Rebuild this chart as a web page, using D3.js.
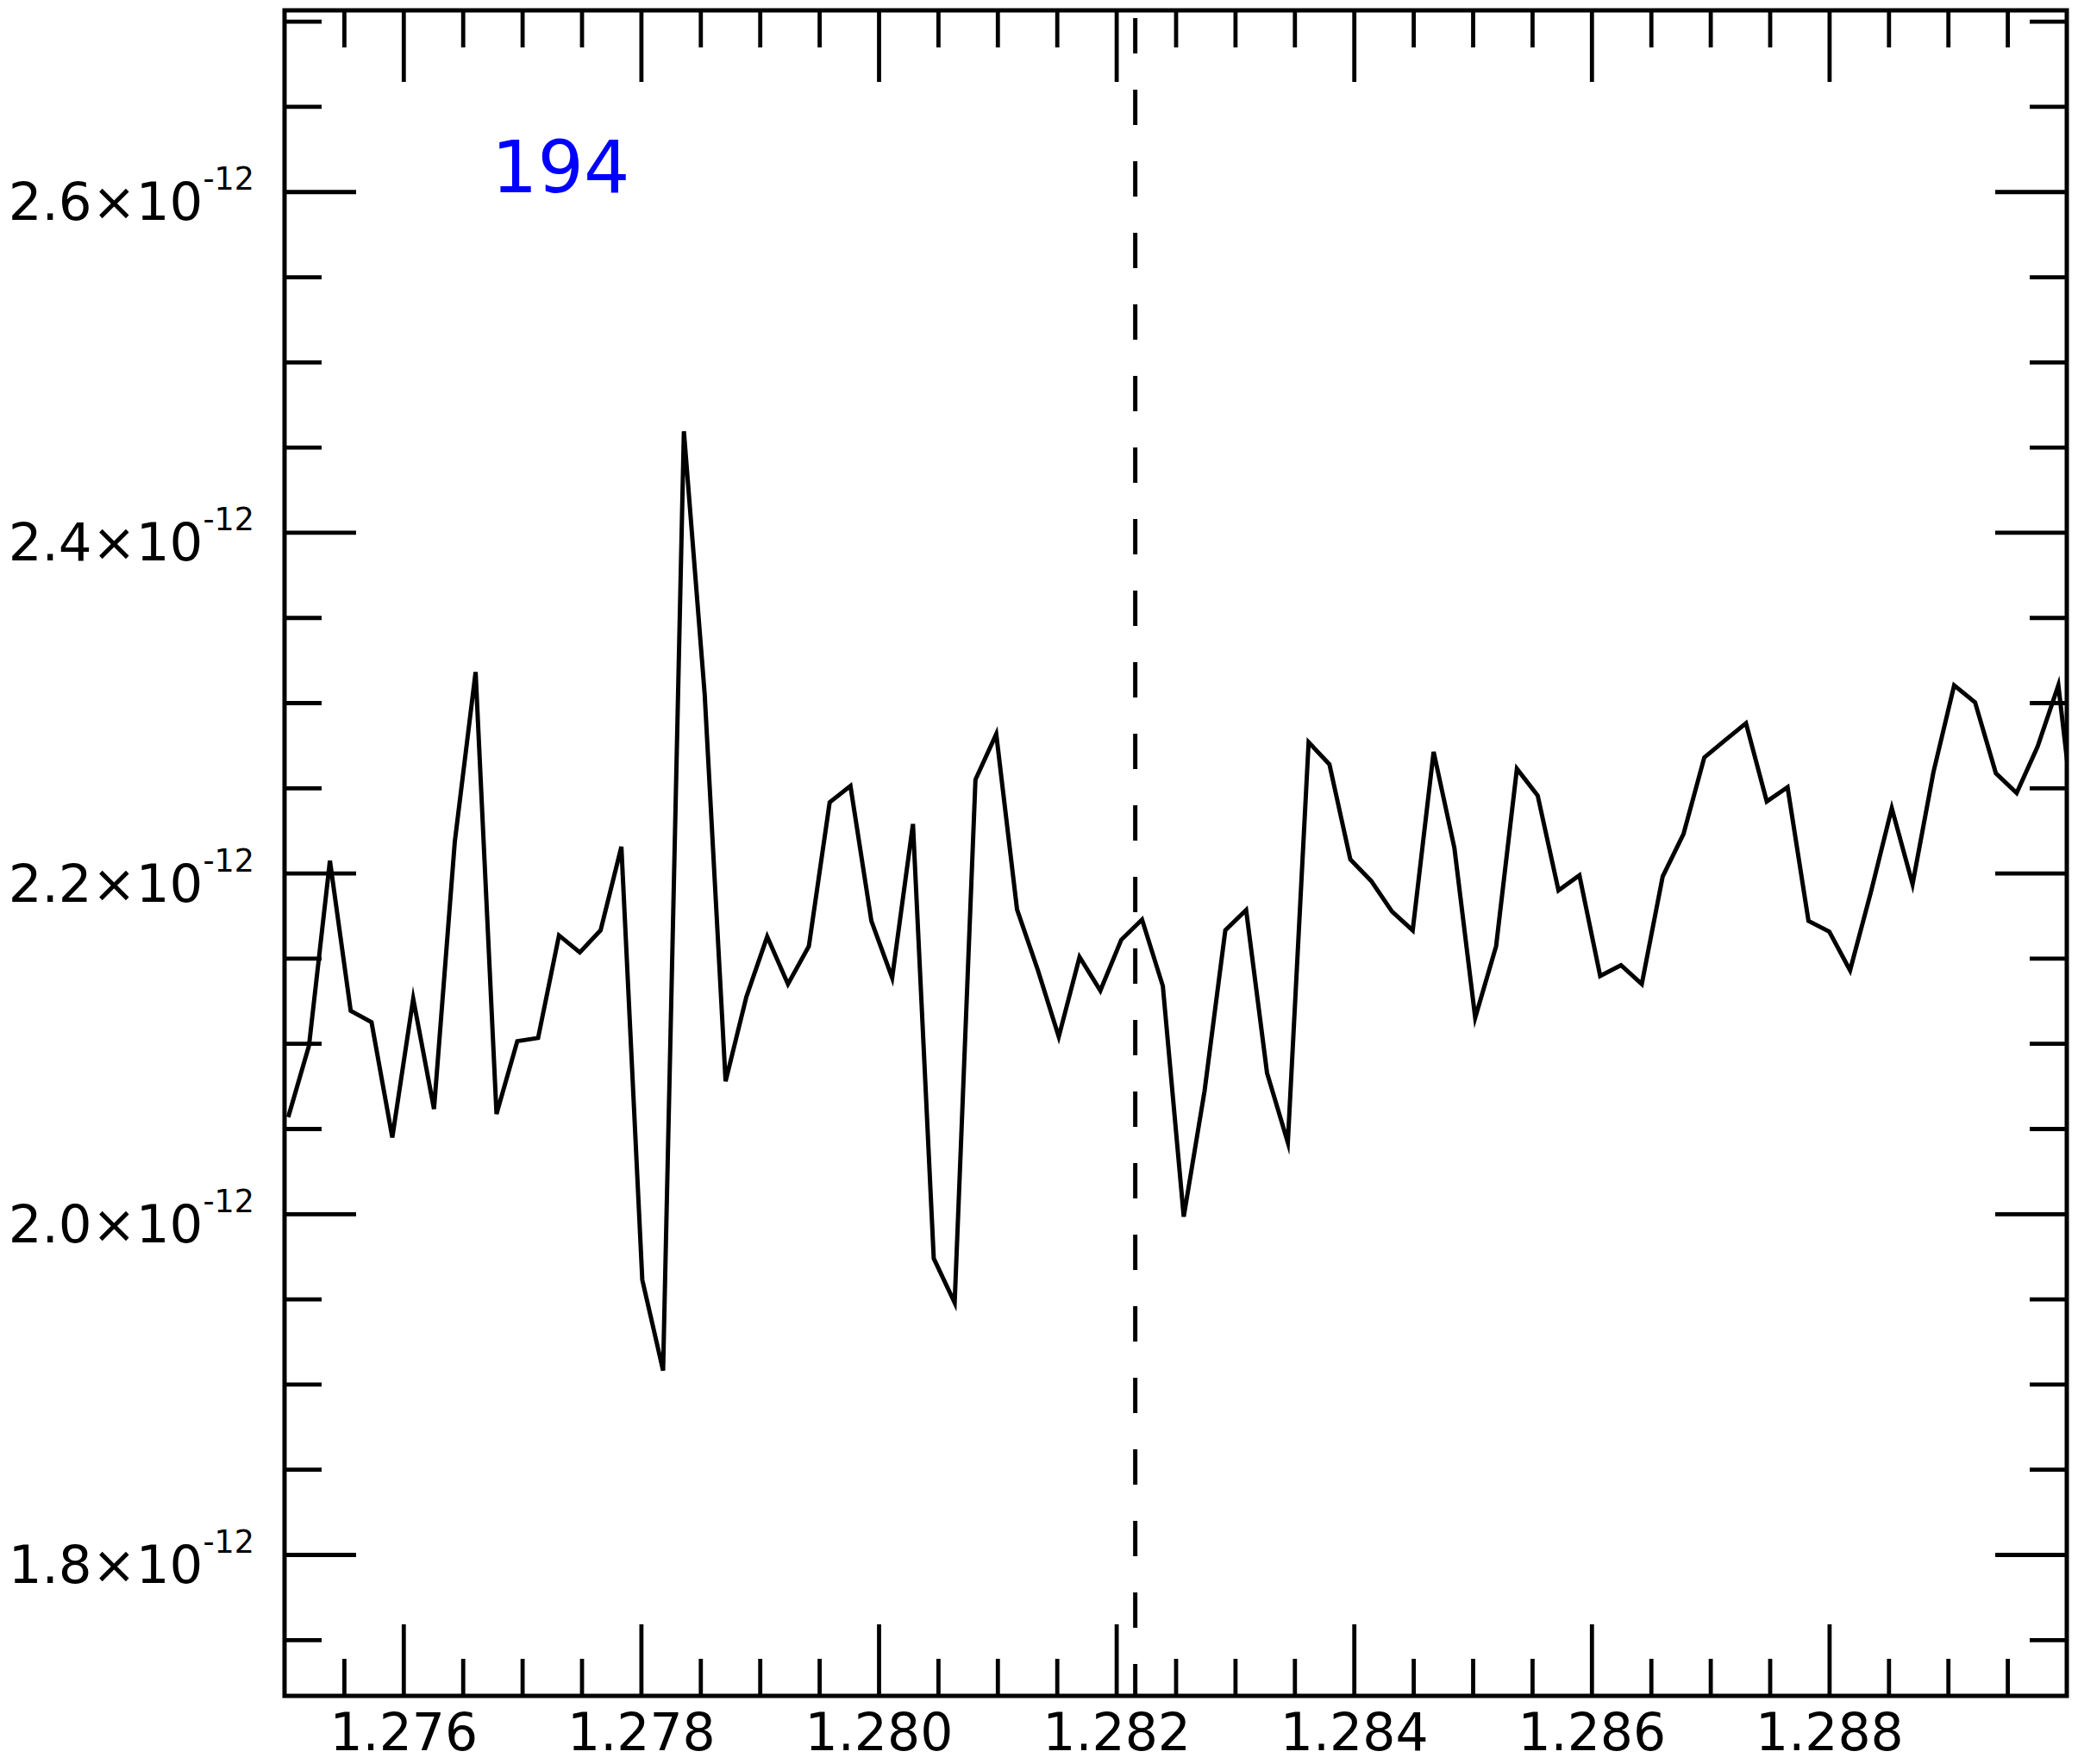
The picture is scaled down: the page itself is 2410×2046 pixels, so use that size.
<!DOCTYPE html>
<html>
<head>
<meta charset="utf-8">
<script src="https://cdn.jsdelivr.net/npm/d3@7"></script>
<style>
  html, body { margin: 0; padding: 0; background: #ffffff; }
  svg { display: block; }
  text { font-family: "DejaVu Sans", sans-serif; }
</style>
</head>
<body>
<script>
// ---------------- data ----------------
const wavelength = [
  1.275031, 1.275206, 1.275382, 1.275557, 1.275732, 1.275907, 1.276083, 1.276258, 1.276433, 1.276608,
  1.276784, 1.276959, 1.277134, 1.277310, 1.277485, 1.277660, 1.277835, 1.278011, 1.278186, 1.278361,
  1.278536, 1.278712, 1.278887, 1.279062, 1.279237, 1.279413, 1.279588, 1.279763, 1.279939, 1.280114,
  1.280289, 1.280464, 1.280640, 1.280815, 1.280990, 1.281165, 1.281341, 1.281516, 1.281691, 1.281866,
  1.282042, 1.282217, 1.282392, 1.282568, 1.282743, 1.282918, 1.283093, 1.283269, 1.283444, 1.283619,
  1.283794, 1.283970, 1.284145, 1.284320, 1.284495, 1.284671, 1.284846, 1.285021, 1.285197, 1.285372,
  1.285547, 1.285722, 1.285898, 1.286073, 1.286248, 1.286423, 1.286599, 1.286774, 1.286949, 1.287124,
  1.287300, 1.287475, 1.287650, 1.287826, 1.288001, 1.288176, 1.288351, 1.288527, 1.288702, 1.288877,
  1.289052, 1.289228, 1.289403, 1.289578, 1.289754, 1.289929, 1.290104
];
const flux = [
  2.0567e-12, 2.0987e-12, 2.2072e-12, 2.1191e-12, 2.1125e-12, 2.0448e-12, 2.1262e-12, 2.0615e-12, 2.2184e-12, 2.3180e-12,
  2.0586e-12, 2.1013e-12, 2.1032e-12, 2.1634e-12, 2.1534e-12, 2.1664e-12, 2.2154e-12, 1.9612e-12, 1.9080e-12, 2.4593e-12,
  2.3050e-12, 2.0778e-12, 2.1273e-12, 2.1627e-12, 2.1348e-12, 2.1571e-12, 2.2415e-12, 2.2511e-12, 2.1719e-12, 2.1385e-12,
  2.2288e-12, 1.9738e-12, 1.9478e-12, 2.2548e-12, 2.2816e-12, 2.1786e-12, 2.1429e-12, 2.1039e-12, 2.1507e-12, 2.1310e-12,
  2.1608e-12, 2.1727e-12, 2.1337e-12, 1.9983e-12, 2.0720e-12, 2.1664e-12, 2.1783e-12, 2.0827e-12, 2.0418e-12, 2.2768e-12,
  2.2638e-12, 2.2080e-12, 2.1954e-12, 2.1775e-12, 2.1664e-12, 2.2712e-12, 2.2147e-12, 2.1151e-12, 2.1571e-12, 2.2612e-12,
  2.2455e-12, 2.1898e-12, 2.1987e-12, 2.1396e-12, 2.1459e-12, 2.1348e-12, 2.1980e-12, 2.2229e-12, 2.2678e-12, 2.2779e-12,
  2.2879e-12, 2.2420e-12, 2.2504e-12, 2.1719e-12, 2.1656e-12, 2.1429e-12, 2.1887e-12, 2.2381e-12, 2.1935e-12, 2.2590e-12,
  2.3102e-12, 2.3002e-12, 2.2586e-12, 2.2470e-12, 2.2742e-12, 2.3102e-12, 2.2050e-12
];
const markerWavelength = 1.28216;
const annotationText = "194";

const xDomain = [1.275, 1.290];
const yDomain = [1.717e-12, 2.7064e-12];

const xMajorTicks = [1.276, 1.278, 1.280, 1.282, 1.284, 1.286, 1.288];
const xMinorTicks = [1.2755, 1.2765, 1.277, 1.2775, 1.2785, 1.279, 1.2795, 1.2805, 1.281, 1.2815,
                     1.2825, 1.283, 1.2835, 1.2845, 1.285, 1.2855, 1.2865, 1.287, 1.2875, 1.2885, 1.289, 1.2895];
const yMajorTicks = [1.8e-12, 2.0e-12, 2.2e-12, 2.4e-12, 2.6e-12];
const yMajorLabels = ["1.8", "2.0", "2.2", "2.4", "2.6"];
const yExponentLabel = "-12";
const yMinorTicks = [1.75e-12, 1.85e-12, 1.9e-12, 1.95e-12, 2.05e-12, 2.1e-12, 2.15e-12, 2.25e-12, 2.3e-12,
                     2.35e-12, 2.45e-12, 2.5e-12, 2.55e-12, 2.65e-12, 2.7e-12];

// ---------------- layout ----------------
const W = 2410, H = 2046;
const L = 330, R = 2397, T = 12, B = 1967;
const MAJ = 83, MIN = 43;

const svg = d3.select("body").append("svg")
  .attr("width", W).attr("height", H)
  .attr("viewBox", `0 0 ${W} ${H}`);
svg.append("rect").attr("width", W).attr("height", H).attr("fill", "#ffffff");

const x = d3.scaleLinear().domain(xDomain).range([L, R]);
const y = d3.scaleLinear().domain(yDomain).range([B, T]);

svg.append("defs").append("clipPath").attr("id", "plotclip")
  .append("rect").attr("x", L).attr("y", T).attr("width", R - L).attr("height", B - T);

function styleAxis(g) {
  g.select(".domain").remove();
  g.selectAll(".tick line").attr("stroke", "#000").attr("stroke-width", 4.8);
}

// bottom axis (labels + inward ticks)
svg.append("g").attr("transform", `translate(0,${B})`)
  .call(d3.axisBottom(x).tickValues(xMajorTicks).tickSize(-MAJ).tickPadding(20)
        .tickFormat(d3.format(".3f")))
  .call(styleAxis)
  .call(g => g.selectAll(".tick text").attr("font-size", 60).attr("fill", "#000")
                .attr("font-family", "DejaVu Sans, sans-serif"));
svg.append("g").attr("transform", `translate(0,${B})`)
  .call(d3.axisBottom(x).tickValues(xMinorTicks).tickSize(-MIN).tickFormat(""))
  .call(styleAxis);

// top axis
svg.append("g").attr("transform", `translate(0,${T})`)
  .call(d3.axisTop(x).tickValues(xMajorTicks).tickSize(-MAJ).tickFormat(""))
  .call(styleAxis);
svg.append("g").attr("transform", `translate(0,${T})`)
  .call(d3.axisTop(x).tickValues(xMinorTicks).tickSize(-MIN).tickFormat(""))
  .call(styleAxis);

// left axis
svg.append("g").attr("transform", `translate(${L},0)`)
  .call(d3.axisLeft(y).tickValues(yMajorTicks).tickSize(-MAJ).tickFormat(""))
  .call(styleAxis);
svg.append("g").attr("transform", `translate(${L},0)`)
  .call(d3.axisLeft(y).tickValues(yMinorTicks).tickSize(-MIN).tickFormat(""))
  .call(styleAxis);

// right axis
svg.append("g").attr("transform", `translate(${R},0)`)
  .call(d3.axisRight(y).tickValues(yMajorTicks).tickSize(-MAJ).tickFormat(""))
  .call(styleAxis);
svg.append("g").attr("transform", `translate(${R},0)`)
  .call(d3.axisRight(y).tickValues(yMinorTicks).tickSize(-MIN).tickFormat(""))
  .call(styleAxis);

// y labels with superscript exponent
const ylab = svg.append("g");
yMajorTicks.forEach((v, i) => {
  const t = ylab.append("text")
    .attr("x", 295)
    .attr("y", y(v) + 33)
    .attr("text-anchor", "end")
    .attr("fill", "#000");
  t.append("tspan").attr("font-size", 61).text(yMajorLabels[i] + "\u00d710");
  t.append("tspan").attr("font-size", 36.5).attr("dy", -35).text(yExponentLabel);
});

// data line
const line = d3.line().x((d, i) => x(wavelength[i])).y(d => y(d));
svg.append("path")
  .datum(flux)
  .attr("clip-path", "url(#plotclip)")
  .attr("d", line)
  .attr("fill", "none")
  .attr("stroke", "#000")
  .attr("stroke-width", 5)
  .attr("stroke-linejoin", "miter")
  .attr("stroke-miterlimit", 6);

// dashed marker line
svg.append("line")
  .attr("x1", x(markerWavelength)).attr("x2", x(markerWavelength))
  .attr("y1", y(yDomain[1])).attr("y2", y(yDomain[0]))
  .attr("stroke", "#000")
  .attr("stroke-width", 5)
  .attr("stroke-dasharray", "41 42")
  .attr("stroke-dashoffset", 74);

// frame
svg.append("rect")
  .attr("x", L).attr("y", T).attr("width", R - L).attr("height", B - T)
  .attr("fill", "none").attr("stroke", "#000").attr("stroke-width", 5);

// annotation
svg.append("text")
  .attr("x", 570).attr("y", 223)
  .attr("font-size", 84)
  .attr("fill", "#0000ff")
  .text(annotationText);
</script>
</body>
</html>
